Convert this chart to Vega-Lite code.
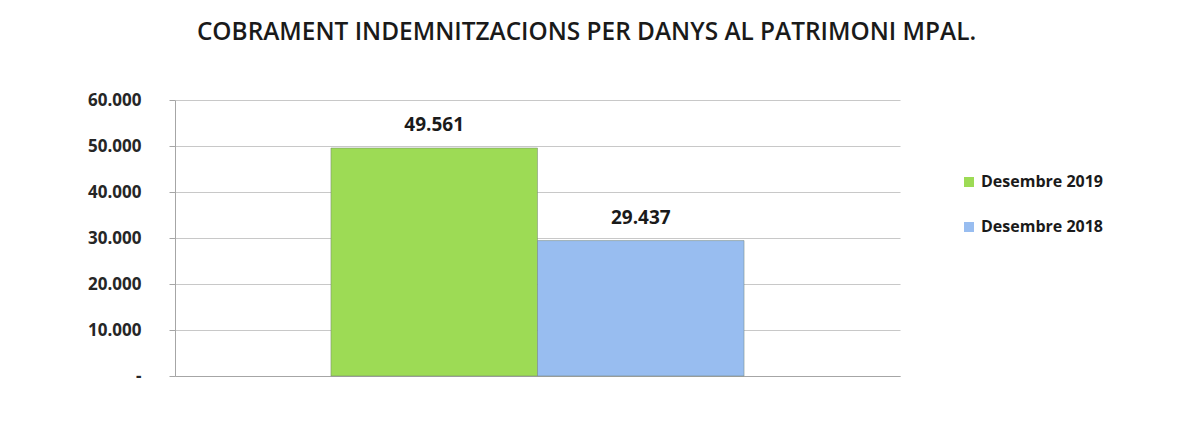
{
  "$schema": "https://vega.github.io/schema/vega-lite/v6.json",
  "width": 725,
  "height": 276,
  "autosize": {"type": "none"},
  "padding": {"left": 175, "top": 100, "right": 294, "bottom": 69},
  "background": "white",
  "title": {
    "text": "COBRAMENT INDEMNITZACIONS PER DANYS AL PATRIMONI MPAL.",
    "font": "Open Sans",
    "fontSize": 24.4,
    "fontWeight": 600,
    "color": "#1a1a1a",
    "anchor": "middle",
    "frame": "group",
    "dx": 49,
    "offset": 46
  },
  "data": {
    "values": [
      {"periode": "Desembre 2019", "import": 49561},
      {"periode": "Desembre 2018", "import": 29437}
    ]
  },
  "encoding": {
    "x": {
      "field": "periode",
      "type": "nominal",
      "sort": ["Desembre 2019", "Desembre 2018"],
      "scale": {"paddingInner": 0, "paddingOuter": 0.755},
      "axis": {"labels": false, "ticks": false, "title": null, "domainColor": "#a6a6a6", "domainWidth": 1}
    },
    "y": {
      "field": "import",
      "type": "quantitative",
      "scale": {"domain": [0, 60000], "nice": false},
      "axis": {
        "title": null,
        "values": [0, 10000, 20000, 30000, 40000, 50000, 60000],
        "labelExpr": "datum.value == 0 ? '-' : replace(format(datum.value, ',.0f'), ',', '.')",
        "labelFont": "Open Sans",
        "labelFontSize": 17,
        "labelFontWeight": "bold",
        "labelColor": "#262626",
        "labelPadding": 28,
        "tickSize": 6,
        "tickColor": "#a6a6a6",
        "domainColor": "#a6a6a6",
        "gridColor": "#c8c8c8",
        "gridWidth": 1.2
      }
    }
  },
  "layer": [
    {
      "mark": {"type": "bar", "stroke": "#6f7f6f", "strokeWidth": 0.8, "strokeOpacity": 0.6},
      "encoding": {
        "color": {
          "field": "periode",
          "type": "nominal",
          "sort": ["Desembre 2019", "Desembre 2018"],
          "scale": {"domain": ["Desembre 2019", "Desembre 2018"], "range": ["#9ddb55", "#98bdf0"]},
          "legend": {
            "title": null,
            "orient": "none",
            "legendX": 786,
            "legendY": 74,
            "symbolType": "square",
            "symbolSize": 100,
            "symbolStrokeWidth": 0,
            "labelFont": "Open Sans",
            "labelFontSize": 16,
            "labelFontWeight": "bold",
            "labelColor": "#1a1a1a",
            "labelOffset": 4,
            "rowPadding": 29
          }
        }
      }
    },
    {
      "mark": {
        "type": "text",
        "baseline": "bottom",
        "dy": -13,
        "font": "Open Sans",
        "fontSize": 19,
        "fontWeight": "bold",
        "color": "#1a1a1a"
      },
      "encoding": {
        "text": {"field": "import", "type": "quantitative", "format": ",.0f"}
      }
    }
  ],
  "config": {
    "view": {"stroke": null},
    "locale": {
      "number": {"decimal": ",", "thousands": ".", "grouping": [3], "currency": ["", " €"]}
    }
  }
}
